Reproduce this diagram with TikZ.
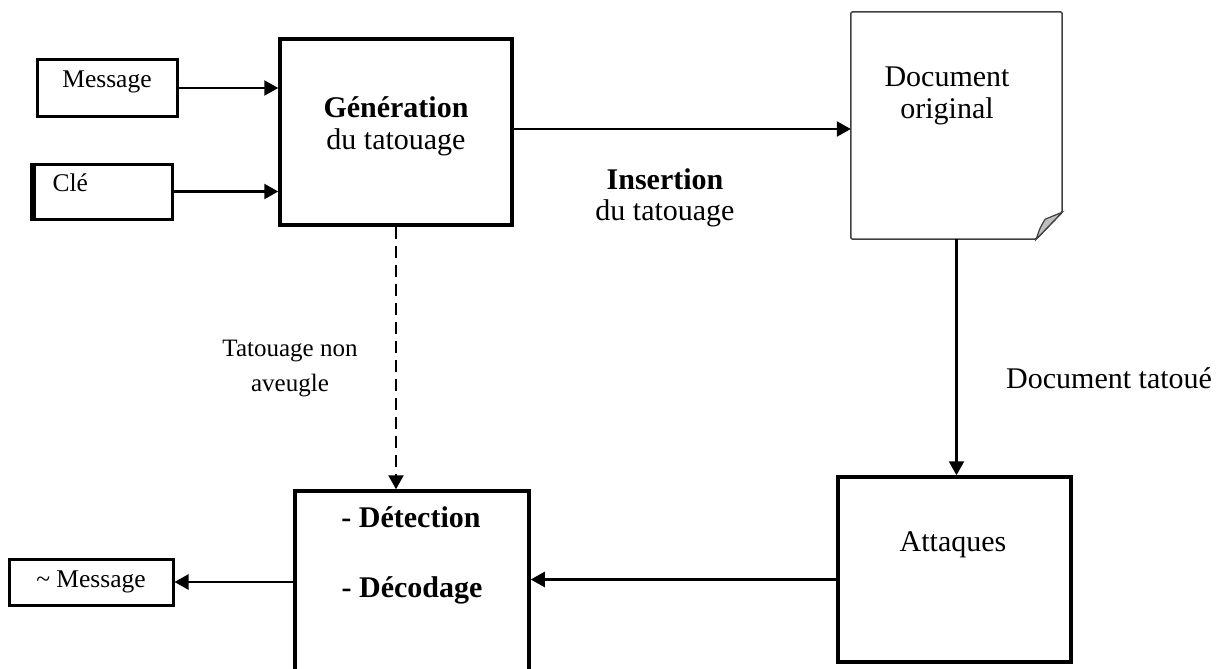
\documentclass[tikz,border=0pt]{standalone}
\usepackage{fontspec}
\setmainfont{Liberation Serif}
\usetikzlibrary{arrows.meta}

\tikzset{
  inbox/.style={draw, line width=3pt, inner sep=0pt},
  bigbox/.style={draw, line width=3.5pt, inner sep=0pt},
  arr/.style={line width=2.4pt, -{Triangle[length=14pt,width=15pt]}},
  dasharr/.style={arr, dash pattern=on 12pt off 7pt},
  txt/.style={font=\fontsize{30}{30}\selectfont, inner sep=0pt},
  smalltxt/.style={font=\fontsize{25.5}{35}\selectfont},
}

\begin{document}
\begin{tikzpicture}[x=1pt,y=-1pt]
  \useasboundingbox (0,0) rectangle (1219,669);

  % entrees
  \node[inbox, smalltxt, minimum width=140pt, minimum height=56pt, text height=10pt, text depth=10pt] (msg) at (107,88) {Message};
  \node[inbox, smalltxt, minimum width=139pt, minimum height=55pt, text width=100pt, align=left, text height=10pt, text depth=10pt] (cle) at (102.5,191.5) {Clé};
  \draw[line width=6pt] ([xshift=1.5pt]cle.north west) -- ([xshift=1.5pt]cle.south west);

  % generation
  \node[bigbox, minimum width=232pt, minimum height=186pt] (gen) at (396,132) {};
  \node[txt, align=center, font=\fontsize{30}{32}\selectfont] (gentxt) at (396,126) {\textbf{Génération}\\du tatouage};

  % document original
  \node[minimum width=211pt, minimum height=227pt, inner sep=0pt] (doc) at (956.5,125.5) {};
  \draw[line width=1.5pt, draw=black!75, rounded corners=1.5pt] (doc.north west) -- (doc.north east) -- ([yshift=27pt]doc.south east) -- ([xshift=-26pt]doc.south east) -- (doc.south west) -- cycle;
  \filldraw[fill=black!25, draw=black!75, line width=1.2pt] ([xshift=-26pt]doc.south east) .. controls ([xshift=-22pt,yshift=12pt]doc.south east) .. ([xshift=-17pt,yshift=20pt]doc.south east) -- ([yshift=27pt]doc.south east) -- cycle;
  \node[txt, align=center, font=\fontsize{30}{32}\selectfont] (doctxt) at (947,96) {Document\\original};

  \node[txt, align=center, font=\fontsize{30}{31}\selectfont] (ins) at (665,198) {\textbf{Insertion}\\du tatouage};

  % attaques
  \node[bigbox, minimum width=233pt, minimum height=185pt] (att) at (954.5,569.5) {};
  \node[txt, anchor=base] (atttxt) at (953,551) {Attaques};
  \node[txt, anchor=base west] (tatoue) at (1006,388) {Document tatoué};

  % detection
  \node[bigbox, minimum width=234pt, minimum height=209pt] (det) at (412,595.5) {};
  \node[txt, anchor=base] (det1) at (411,527) {\textbf{- Détection}};
  \node[txt, anchor=base] (det2) at (412,597) {\textbf{- Décodage}};
  \node[inbox, smalltxt, minimum width=164pt, minimum height=46pt] (out) at (91,582) {\textasciitilde{} Message};

  \node[smalltxt, align=center, inner sep=0pt, font=\fontsize{25}{35}\selectfont] (aveugle) at (290,369) {Tatouage non\\aveugle};

  % fleches
  \draw[arr] (msg.east) -- (msg.east -| gen.west);
  \draw[arr] (cle.east) -- (cle.east -| gen.west);
  \draw[arr] ([yshift=3pt]gen.east) -- ([yshift=3pt]gen.east -| doc.west);
  \draw[arr] (doc.south) -- (doc.south |- att.north);
  \draw[arr] ([yshift=-10pt]att.west) -- ([yshift=-10pt]att.west -| det.east);
  \draw[arr] (det.west |- out.east) -- (out.east);
  \draw[dasharr] (gen.south) -- (gen.south |- det.north);
\end{tikzpicture}
\end{document}
